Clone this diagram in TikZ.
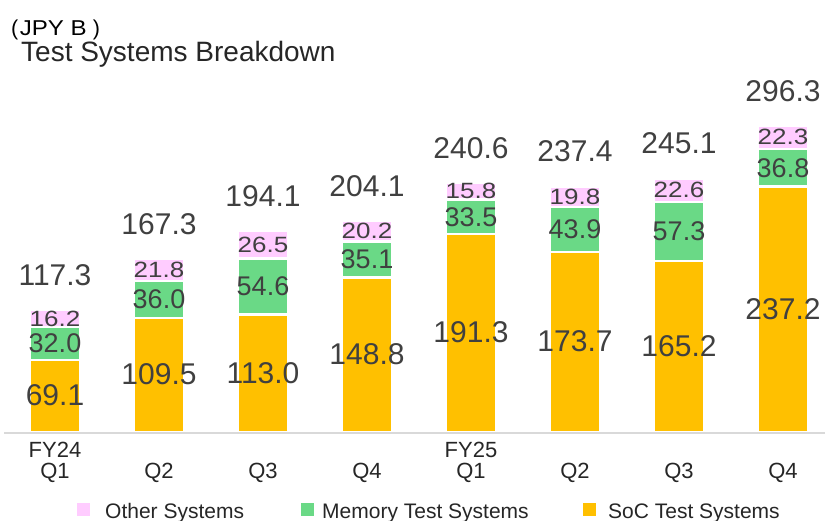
\documentclass[tikz,border=0pt]{standalone}
\usepackage{fontspec}
\usepackage{graphicx}
\setmainfont{Liberation Sans}
\definecolor{pinkc}{HTML}{FFCCFF}
\definecolor{greenc}{HTML}{6AD986}
\definecolor{goldc}{HTML}{FFC000}
\definecolor{txtc}{HTML}{404040}
\definecolor{darkc}{HTML}{262626}
\definecolor{axisc}{HTML}{D9D9D9}
\begin{document}
\begin{tikzpicture}[x=1pt,y=-1pt,
  seg/.style={draw=white, line width=2.5pt},
  totlab/.style={font=\fontsize{30}{30}\selectfont, text=txtc, inner sep=0pt},
  soclab/.style={font=\fontsize{30}{30}\selectfont, text=txtc, inner sep=0pt},
  memlab/.style={font=\fontsize{27}{27}\selectfont, text=txtc, inner sep=0pt},
  othlab/.style={font=\fontsize{26}{26}\selectfont, text=txtc, inner sep=0pt},
  catlab/.style={font=\fontsize{22}{22}\selectfont, text=darkc, inner sep=0pt, text height=15.5pt, text depth=0pt},
  leglab/.style={font=\fontsize{21}{21}\selectfont, text=darkc, inner sep=0pt, anchor=base west},
  ]
\useasboundingbox (0,0) rectangle (825,521);
% title
\node[anchor=base west, inner sep=0pt, font=\fontsize{21.5}{21.5}\selectfont, text=black] (unit) at (11,36)
  {(\hspace{1.5pt}\scalebox{1.12}[1]{JPY B}\hspace{6pt})};
\node[anchor=base west, inner sep=0pt, font=\fontsize{28}{28}\selectfont, text=darkc] (title) at (21,62)
  {Test Systems Breakdown};
% bars
\foreach \i/\s/\m/\o/\t in {0/69.1/32.0/16.2/117.3, 1/109.5/36.0/21.8/167.3, 2/113.0/54.6/26.5/194.1,
  3/148.8/35.1/20.2/204.1, 4/191.3/33.5/15.8/240.6, 5/173.7/43.9/19.8/237.4,
  6/165.2/57.3/22.6/245.1, 7/237.2/36.8/22.3/296.3}{
  \pgfmathsetmacro\c{55+104*\i}
  \pgfmathsetmacro\ya{431-\s*1.03}
  \pgfmathsetmacro\yb{\ya-\m*1.03}
  \pgfmathsetmacro\yc{\yb-\o*1.03}
  \draw[seg, fill=goldc] ({\c-25},432.5) rectangle ({\c+25},\ya);
  \draw[seg, fill=greenc] ({\c-25},\ya) rectangle ({\c+25},\yb);
  \draw[seg, fill=pinkc] ({\c-25},\yb) rectangle ({\c+25},\yc);
  \node[soclab] (soc\i) at (\c,{(431+\ya)/2}) {\s};
  \node[memlab] (mem\i) at (\c,{(\ya+\yb)/2}) {\m};
  \node[othlab] (oth\i) at (\c,{(\yb+\yc)/2}) {\scalebox{1}[0.85]{\o}};
  \node[totlab] (tot\i) at (\c,{\yc-35}) {\t};
}
% axis
\draw[axisc, line width=2.5pt] (4,433) -- (825,433);
% categories
\foreach \i/\q in {0/Q1,1/Q2,2/Q3,3/Q4,4/Q1,5/Q2,6/Q3,7/Q4}{
  \node[catlab] (cat\i) at ({55+104*\i},471) {\q};
}
\node[catlab] (fy24) at (55,449.5) {FY24};
\node[catlab] (fy25) at (471,449.5) {FY25};
% legend
\fill[pinkc] (77,503) rectangle (90,516);
\node[leglab] (lego) at (105,518) {Other Systems};
\fill[greenc] (301,503) rectangle (314,516);
\node[leglab] (legm) at (322,518) {Memory Test Systems};
\fill[goldc] (583,503) rectangle (596,516);
\node[leglab] (legs) at (608,518) {SoC Test Systems};
\end{tikzpicture}
\end{document}
